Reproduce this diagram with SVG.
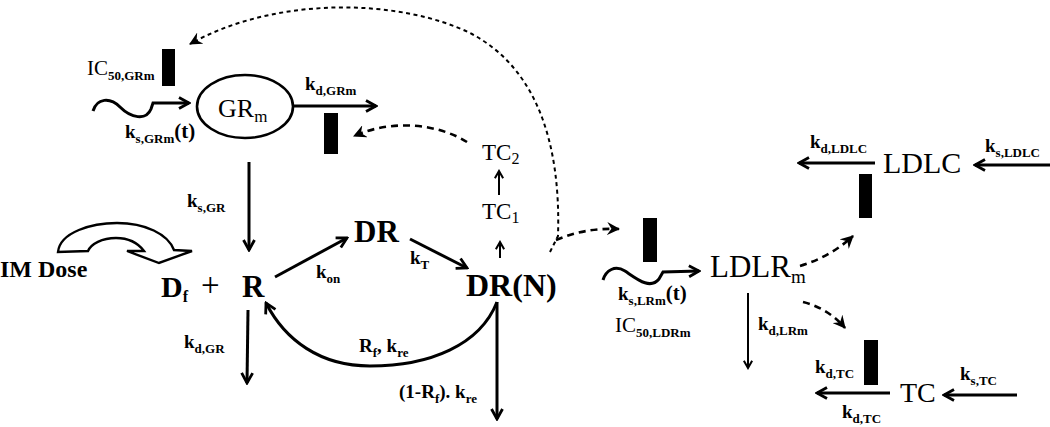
<svg xmlns="http://www.w3.org/2000/svg" width="1050" height="427" viewBox="0 0 1050 427">
<defs>
<style>
text{font-family:"Liberation Serif","Times New Roman",serif;fill:#000}
.k{font-weight:bold;font-size:19px}
.s{font-size:13px;font-weight:bold}
.big{font-weight:bold}
.ln{fill:none;stroke:#000;stroke-width:3}
.thin{fill:none;stroke:#000;stroke-width:2}
.dash{fill:none;stroke:#000;stroke-width:2.6;stroke-dasharray:7 5}
.dot{fill:none;stroke:#000;stroke-width:2;stroke-dasharray:4 3.5}
.bar{fill:#000}
</style>
<marker id="ah" viewBox="0 0 14 14" refX="12" refY="7" markerWidth="14" markerHeight="14" markerUnits="userSpaceOnUse" orient="auto">
<path d="M2,1.5 L12,7 L2,12.5" fill="none" stroke="#000" stroke-width="2.8"/>
</marker>
<marker id="ahs" viewBox="0 0 12 12" refX="10" refY="6" markerWidth="11" markerHeight="11" markerUnits="userSpaceOnUse" orient="auto">
<path d="M2,1.5 L10,6 L2,10.5" fill="none" stroke="#000" stroke-width="2.2"/>
</marker>
<marker id="ahd" viewBox="0 0 12 12" refX="11" refY="6" markerWidth="13" markerHeight="13" markerUnits="userSpaceOnUse" orient="auto">
<path d="M0,0 L12,6 L0,12 L4,6 Z" fill="#000"/>
</marker>
</defs>
<rect width="1050" height="427" fill="#fff"/>

<g id="connectors">
<path class="dot" d="M550,252 L558,236 C561,140 535,68 472,34 C400,-2 275,-4 190,44" marker-end="url(#ahd)"/>
<path class="dash" d="M556,240 C575,232 595,228 619,229" marker-end="url(#ahd)"/>
<path class="dash" d="M467,142 C440,125 395,118 354,136" marker-end="url(#ahd)"/>
<path class="ln" d="M93,111 C97,98 110,97 120,107 C131,118 146,121 151,109 L153,103 L189,103" marker-end="url(#ah)"/>
<path class="ln" d="M294,106 L376,106" marker-end="url(#ah)"/>
<path class="ln" d="M249,162 L249,250" marker-end="url(#ah)"/>
<path class="ln" d="M248,310 L247,383" marker-end="url(#ah)"/>
<path class="ln" d="M275,277 L347,238" marker-end="url(#ah)"/>
<path class="ln" d="M410,239 L467,268" marker-end="url(#ah)"/>
<path class="thin" d="M500,258 L500,242" marker-end="url(#ahs)"/>
<path class="thin" d="M499,195 L499,171" marker-end="url(#ahs)"/>
<path class="ln" d="M497,302 C480,345 430,366 370,366 C320,366 285,340 266,303" marker-end="url(#ah)"/>
<path class="ln" d="M497,302 L497,419" marker-end="url(#ah)"/>
<path d="M58,252 C60,232 92,223 117,223 C145,223 168,234 174,250 L192,251 L159,263 L127,251 L144,251 C138,243 128,238 116,238 C102,238 91,244 88,251 Z" fill="#fff" stroke="#000" stroke-width="2.4"/>
<path class="ln" d="M603,280 C606,270 615,265 625,271 C637,279 650,290 659,279 L663,272 L699,271" marker-end="url(#ah)"/>
<path class="thin" d="M748,293 L748,368" marker-end="url(#ahs)"/>
<path class="dash" d="M800,266 C820,260 838,250 853,236" marker-end="url(#ahd)"/>
<path class="dash" d="M803,302 C820,306 835,316 845,328" marker-end="url(#ahd)"/>
<path class="ln" d="M875,163 L799,163" marker-end="url(#ah)"/>
<path class="ln" d="M1050,165 L975,165" marker-end="url(#ah)"/>
<path class="ln" d="M890,393 L817,393" marker-end="url(#ah)"/>
<path class="ln" d="M1017,395 L944,395" marker-end="url(#ah)"/>
</g>

<g id="bars">
<rect class="bar" x="162" y="49" width="13" height="37"/>
<rect class="bar" x="324" y="113" width="14" height="41"/>
<rect class="bar" x="643" y="218" width="14" height="44"/>
<rect class="bar" x="859" y="174" width="13" height="44"/>
<rect class="bar" x="864" y="340" width="14" height="45"/>
</g>

<g id="node-GRm">
<ellipse cx="245" cy="106.5" rx="48" ry="31.5" fill="none" stroke="#000" stroke-width="2.6"/>
<text x="218" y="117" font-size="26">GR<tspan font-size="17" dy="5">m</tspan></text>
</g>
<g id="node-Df">
<text class="big" x="161" y="297" font-size="30">D<tspan font-size="16" dy="5">f</tspan></text>
</g>
<g id="node-plus">
<text x="201" y="296" font-size="33">+</text>
</g>
<g id="node-R">
<text class="big" x="242" y="297" font-size="31">R</text>
</g>
<g id="node-DR">
<text class="big" x="354" y="242" font-size="31">DR</text>
</g>
<g id="node-DRN">
<text class="big" x="466" y="296" font-size="32">DR(N)</text>
</g>
<g id="node-TC1">
<text x="482" y="219" font-size="23">TC<tspan font-size="16" dy="4">1</tspan></text>
</g>
<g id="node-TC2">
<text x="482" y="160" font-size="23">TC<tspan font-size="16" dy="4">2</tspan></text>
</g>
<g id="node-IMDose">
<text class="big" x="0" y="277" font-size="24">IM Dose</text>
</g>
<g id="node-LDLRm">
<text x="710" y="277" font-size="31">LDLR<tspan font-size="19" dy="6">m</tspan></text>
</g>
<g id="node-LDLC">
<text x="883" y="173" font-size="30">LDLC</text>
</g>
<g id="node-TC">
<text x="900" y="402" font-size="28">TC</text>
</g>

<g id="labels">
<text x="87" y="75" font-size="21">IC<tspan class="s" dy="5">50,GRm</tspan></text>
<text class="k" x="125" y="138">k<tspan class="s" dy="5">s,GRm</tspan><tspan dy="-5" font-size="21">(t)</tspan></text>
<text class="k" x="305" y="90">k<tspan class="s" dy="5">d,GRm</tspan></text>
<text class="k" x="187" y="207">k<tspan class="s" dy="5">s,GR</tspan></text>
<text class="k" x="184" y="348">k<tspan class="s" dy="5">d,GR</tspan></text>
<text class="k" x="316" y="278">k<tspan class="s" dy="5">on</tspan></text>
<text class="k" x="410" y="264">k<tspan class="s" dy="5">T</tspan></text>
<text class="k" x="359" y="352">R<tspan class="s" dy="5">f</tspan><tspan dy="-5">, k</tspan><tspan class="s" dy="5">re</tspan></text>
<text class="k" x="399" y="398">(1-R<tspan class="s" dy="5">f</tspan><tspan dy="-5">). k</tspan><tspan class="s" dy="5">re</tspan></text>
<text class="k" x="618" y="300">k<tspan class="s" dy="5">s,LRm</tspan><tspan dy="-5" font-size="21">(t)</tspan></text>
<text x="615" y="332" font-size="21">IC<tspan class="s" dy="5">50,LDRm</tspan></text>
<text class="k" x="758" y="330">k<tspan class="s" dy="5">d,LRm</tspan></text>
<text class="k" x="810" y="148">k<tspan class="s" dy="5">d,LDLC</tspan></text>
<text class="k" x="985" y="152">k<tspan class="s" dy="5">s,LDLC</tspan></text>
<text class="k" x="815" y="373">k<tspan class="s" dy="5">d,TC</tspan></text>
<text class="k" x="842" y="418">k<tspan class="s" dy="5">d,TC</tspan></text>
<text class="k" x="960" y="380">k<tspan class="s" dy="5">s,TC</tspan></text>
</g>
</svg>
